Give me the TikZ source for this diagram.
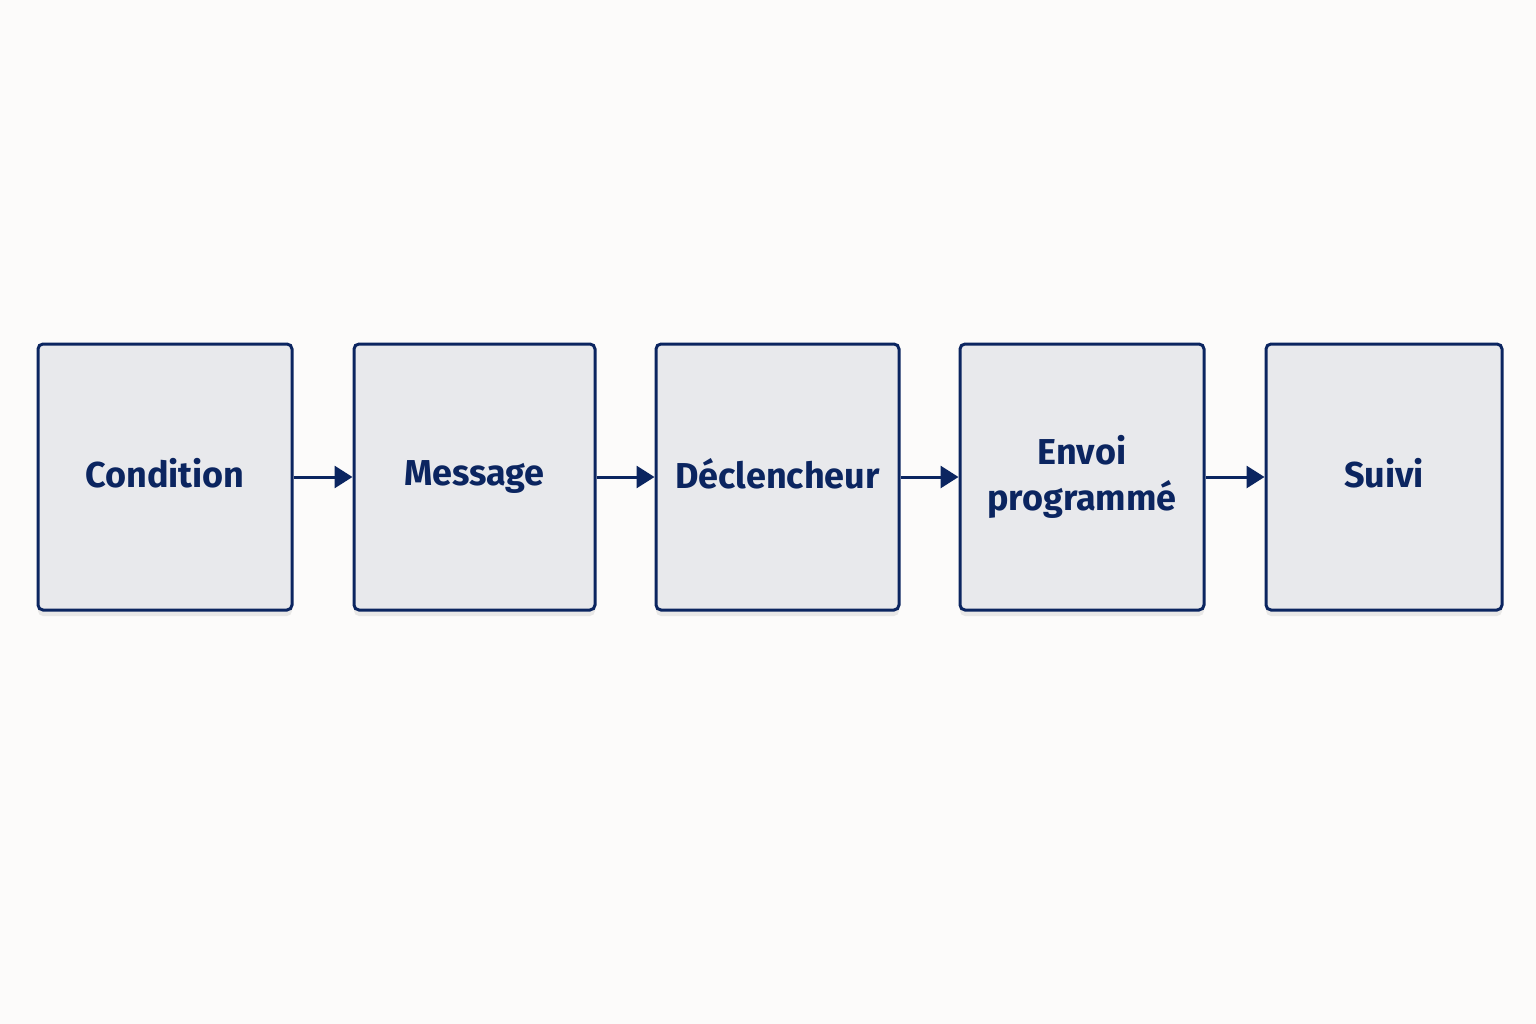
\documentclass[tikz,border=0pt]{standalone}
\usepackage{fontspec}
\setmainfont{Fira Sans}
\usetikzlibrary{arrows.meta,shadows}
\definecolor{navy}{HTML}{0B2560}
\definecolor{boxfill}{HTML}{E8E9EC}
\definecolor{bg}{HTML}{FCFBFA}
\newcommand{\sstrut}{\vphantom{Dg}}
\begin{document}
\begin{tikzpicture}[x=1pt,y=-1pt,
  box/.style={draw=navy,line width=3pt,fill=boxfill,rounded corners=5pt,
    font=\fontsize{36}{46}\selectfont\bfseries,text=navy,align=center,
    drop shadow={shadow xshift=0pt,shadow yshift=-6pt,opacity=0.15}},
  arr/.style={navy,line width=3pt,-{Triangle[length=18pt,width=22pt]}}]
\fill[bg] (0,0) rectangle (1536,1024);
\node[box,minimum width=254pt,minimum height=266pt] (a) at (165,477) {\sstrut Condition};
\node[box,minimum width=241pt,minimum height=266pt] (b) at (474.5,477) {\sstrut Message};
\node[box,minimum width=243pt,minimum height=266pt] (c) at (777.5,477) {\sstrut Déclencheur};
\node[box,minimum width=244pt,minimum height=266pt] (d) at (1082,477) {Envoi\\programmé};
\node[box,minimum width=236pt,minimum height=266pt] (e) at (1384,477) {\sstrut Suivi};
\draw[arr] (a) -- (b);
\draw[arr] (b) -- (c);
\draw[arr] (c) -- (d);
\draw[arr] (d) -- (e);
\end{tikzpicture}
\end{document}
